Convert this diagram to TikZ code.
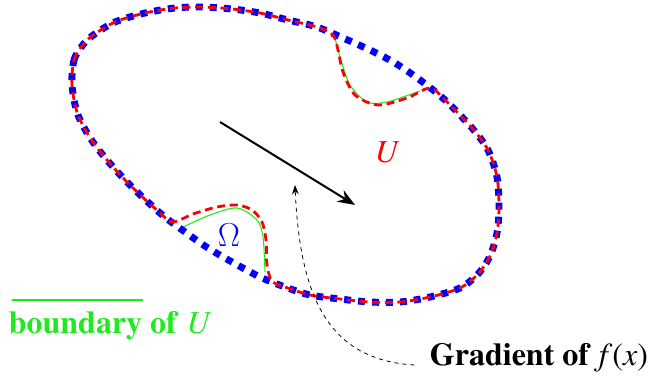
\documentclass[tikz,border=0pt]{standalone}
\usepackage{xcolor,tikz}
\usepackage{fontspec}
\setmainfont{texgyretermes}[Extension=.otf,UprightFont=*-regular,BoldFont=*-bold,ItalicFont=*-italic,BoldItalicFont=*-bolditalic]
\usetikzlibrary{arrows.meta}
\definecolor{bdgreen}{RGB}{30,235,30}

\begin{document}
\begin{tikzpicture}[x=0.75pt,y=-0.75pt,
 omegaline/.style={blue,line width=5.2pt,dash pattern=on 5.2pt off 5.3pt},
 uline/.style={red,line width=2.1pt,dash pattern=on 6pt off 3.5pt},
 bdline/.style={bdgreen,line width=0.8pt},
 lbl/.style={font=\fontsize{24}{28}\selectfont,inner sep=1pt}]
\useasboundingbox (0,0) rectangle (658,379);
\draw[bdline] plot[smooth] coordinates {(335,38) (340,57) (350,85) (367,102) (387,102) (420,91)};
\draw[bdline] plot[smooth] coordinates {(183,227) (210,215) (237,208) (257,220) (263,237) (265,272)};
\draw[omegaline] plot[smooth cycle] coordinates {(72,85) (74,60) (82,46) (92,36) (115,22) (145,13) (175,8) (203,7) (232,9) (260,13) (288,20) (317,27) (343,38) (370,50) (395,63) (420,80) (445,100) (472,128) (488,150) (497,177) (499,207) (497,233) (490,256) (478,274) (460,288) (430,297) (400,302) (370,302) (340,299) (310,295) (285,287) (260,277) (232,262) (208,248) (185,232) (160,213) (125,180) (95,145) (78,115)};
\draw[uline] plot[smooth cycle] coordinates {(72,85) (74,60) (82,46) (92,36) (115,22) (145,13) (175,8) (203,7) (232,9) (260,13) (288,20) (317,27) (333,35) (338,50) (343,72) (355,95) (378,105) (407,98) (430,88) (445,100) (472,128) (488,150) (497,177) (499,207) (497,233) (490,256) (478,274) (460,288) (430,297) (400,302) (370,302) (340,299) (310,295) (285,287) (272,281) (267,265) (266,240) (262,222) (252,210) (237,205) (217,207) (193,214) (173,222) (160,213) (125,180) (95,145) (78,115)};
% gradient arrow
\coordinate (gstart) at (220,122); \coordinate (gend) at (355,205);
\draw[line width=1.5pt,-{Stealth[length=13pt,width=10pt]}] (gstart) -- (gend);
\node[lbl,red] (ulbl) at (387,152) {\textit{U}};
\node[lbl,blue] (omlbl) at (229,235) {$\Omega$};
% legend
\coordinate (leg1) at (12,300); \coordinate (leg2) at (143,300);
\draw[bdline] (leg1) -- (leg2);
\node[lbl,bdgreen] (bdlbl) at (110,326) {\textbf{boundary of \textmd{\textit{U}}}};
\node[lbl] (grad) at (539,358) {\textbf{Gradient of \textmd{\textit{f}(\textit{x})}}};
\coordinate (gtip) at (295,185);
\draw[dashed,line width=0.6pt,-{Stealth[length=7pt,width=5pt]}] ([shift={(-14,7)}]grad.west) .. controls (330,360) and (300,300) .. (gtip);
\end{tikzpicture}
\end{document}
